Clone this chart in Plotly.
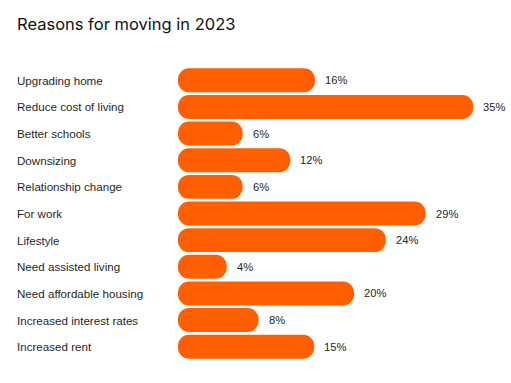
import plotly.graph_objects as go

categories = ["Upgrading home", "Reduce cost of living", "Better schools", "Downsizing",
              "Relationship change", "For work", "Lifestyle", "Need assisted living",
              "Need affordable housing", "Increased interest rates", "Increased rent"]
# bar lengths as drawn in the picture (the "16%" bar is drawn as long as the "15%" one)
values = [15.1, 35, 6, 12, 6, 29, 24, 4, 20, 8, 15]
value_labels = ["16%", "35%", "6%", "12%", "6%", "29%", "24%", "4%", "20%", "8%", "15%"]
title_text = "Reasons for moving in 2023"

ORANGE = "#FF5F00"
TEXT = "#1f1f1f"
FONT = "Liberation Sans, Arial, sans-serif"

W, H = 511, 383
ML, MR, MT, MB = 178, 6, 67, 23
plot_w = W - ML - MR
px_per_unit = (473.3 - 226.7) / (35 - 4)      # ~7.955 px per percentage point
zero_px = 226.7 - 4 * px_per_unit               # page x of value 0
x_min = -(zero_px - ML) / px_per_unit          # bars visually start left of zero
x_max = x_min + plot_w / px_per_unit

fig = go.Figure()
fig.add_trace(go.Bar(
    x=[v - x_min for v in values], y=categories, base=x_min, orientation="h",
    marker=dict(color=ORANGE, cornerradius="50%", line=dict(width=0)),
    hoverinfo="skip",
))

annotations = []
for c, v, t in zip(categories, values, value_labels):
    annotations.append(dict(x=v, y=c, xref="x", yref="y", text=t,
                            xanchor="left", yanchor="middle", xshift=8, showarrow=False,
                            font=dict(family=FONT, size=11.2, color=TEXT)))
    annotations.append(dict(x=0, y=c, xref="paper", yref="y", text=c,
                            xanchor="left", yanchor="middle", xshift=17 - ML - 2, showarrow=False,
                            font=dict(family=FONT, size=11.6, color=TEXT)))

fig.update_layout(
    width=W, height=H,
    margin=dict(l=ML, r=MR, t=MT, b=MB),
    paper_bgcolor="white", plot_bgcolor="white",
    bargap=0.1,
    showlegend=False,
    title=dict(text=title_text, x=17 / W, xanchor="left", y=1 - 24 / H,
               yanchor="middle",
               font=dict(family="Inter, Liberation Sans, sans-serif", size=16.5, color="#111")),
    xaxis=dict(range=[x_min, x_max], visible=False, fixedrange=True),
    yaxis=dict(autorange="reversed", showticklabels=False, showgrid=False, zeroline=False,
               showline=False, ticks="", fixedrange=True),
    annotations=annotations,
)

fig.write_html("out.html", config={"displayModeBar": False},
               post_script="document.body.style.margin='0px';document.body.style.overflow='hidden';")
